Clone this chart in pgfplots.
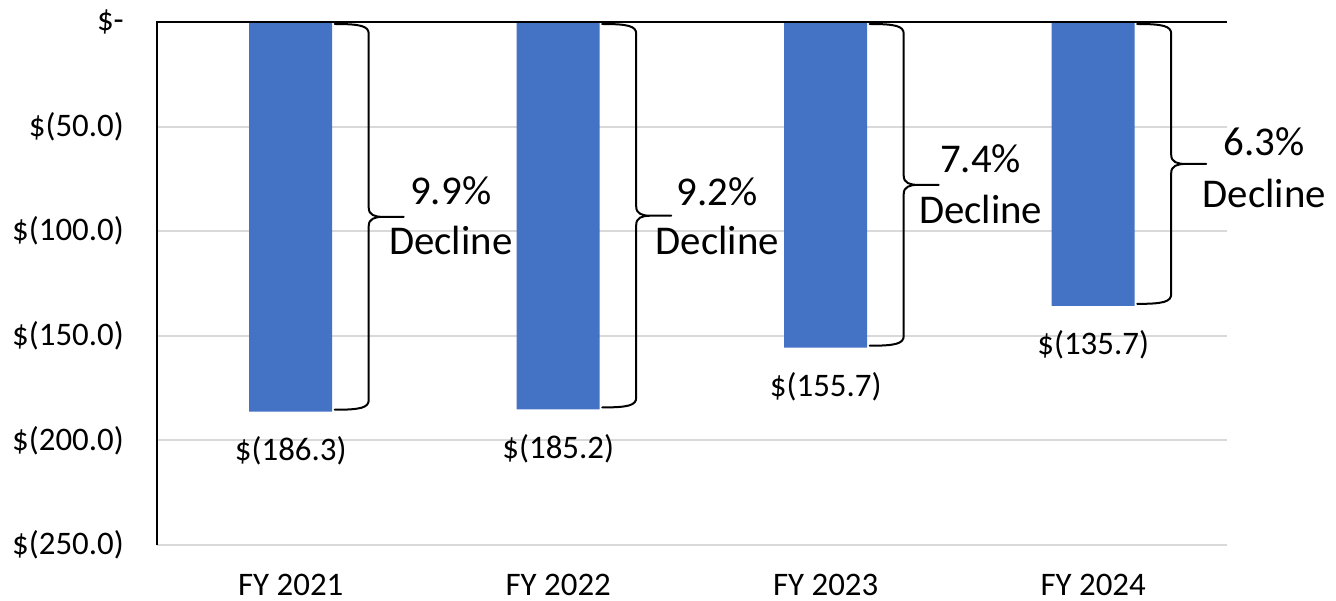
\documentclass[border=0pt]{standalone}
\usepackage{fontspec}
\setmainfont{Carlito}
\usepackage{pgfplots}
\pgfplotsset{compat=1.18}
\definecolor{barblue}{HTML}{4472C4}
\definecolor{gridgray}{HTML}{D9D9D9}
\newcommand{\tickfont}{\fontsize{33}{40}\selectfont}
\newcommand{\declfont}{\fontsize{41}{50}\selectfont}
% #1 bar index, #2 bar value, #3 mid value
\newcommand{\ebrace}[3]{%
  \draw[line width=2bp, line join=round, line cap=round]
    ([xshift=44bp,yshift=-2bp]axis cs:#1,0)
    .. controls ([xshift=70bp,yshift=-2bp]axis cs:#1,0) and ([xshift=78bp,yshift=-4bp]axis cs:#1,0) ..
    ([xshift=78bp,yshift=-12bp]axis cs:#1,0)
    -- ([xshift=78bp,yshift=9bp]axis cs:#1,#3)
    .. controls ([xshift=78bp,yshift=2bp]axis cs:#1,#3) and ([xshift=84bp]axis cs:#1,#3) ..
    ([xshift=92bp]axis cs:#1,#3)
    -- ([xshift=113bp]axis cs:#1,#3)
    -- ([xshift=92bp]axis cs:#1,#3)
    .. controls ([xshift=84bp]axis cs:#1,#3) and ([xshift=78bp,yshift=-2bp]axis cs:#1,#3) ..
    ([xshift=78bp,yshift=-9bp]axis cs:#1,#3)
    -- ([xshift=78bp,yshift=12bp]axis cs:#1,#2)
    .. controls ([xshift=78bp,yshift=4bp]axis cs:#1,#2) and ([xshift=70bp,yshift=2bp]axis cs:#1,#2) ..
    ([xshift=44bp,yshift=2bp]axis cs:#1,#2);
}
\begin{document}
\begin{tikzpicture}
\path[use as bounding box] (-157bp,-56bp) rectangle (1179bp,545bp);
\begin{axis}[at={(0,0)}, anchor=south west,
  scale only axis, width=1070bp, height=523bp,
  xmin=-0.5, xmax=3.5, ymin=-250, ymax=0,
  xtick={0,1,2,3}, xticklabels={FY 2021,FY 2022,FY 2023,FY 2024},
  ytick={0,-50,-100,-150,-200,-250},
  yticklabels={\$-\hspace{0.72em},\$(50.0),\$(100.0),\$(150.0),\$(200.0),\$(250.0)},
  ymajorgrids, major grid style={gridgray, line width=2bp},
  major tick length=0pt,
  axis line style={draw=none},
  tick label style={font=\tickfont},
  yticklabel style={anchor=east, inner sep=0pt, xshift=-33bp},
  xticklabel style={anchor=base, inner sep=0pt, yshift=-50bp},
  clip=false,
  ybar, bar width=83bp, bar shift=0pt,
  nodes near coords, point meta=explicit symbolic,
  every node near coord/.append style={font=\tickfont, anchor=base, inner sep=0pt, yshift=-49bp},
]
\addplot[fill=barblue, draw=none] coordinates {
  (0,-186.3) [\$(186.3)]
  (1,-185.2) [\$(185.2)]
  (2,-155.7) [\$(155.7)]
  (3,-135.7) [\$(135.7)]
};
\draw[black, line width=2bp] (rel axis cs:0,0) -- (rel axis cs:0,1) -- (rel axis cs:1,1);
\ebrace{0}{-186.3}{-93.15}
\ebrace{1}{-185.2}{-92.6}
\ebrace{2}{-155.7}{-77.85}
\ebrace{3}{-135.7}{-67.85}
\node[font=\declfont, anchor=base, inner sep=0pt] at ([xshift=160bp,yshift=12bp]axis cs:0,-93.15) {9.9\%};
\node[font=\declfont, anchor=base, inner sep=0pt] at ([xshift=160bp,yshift=-38bp]axis cs:0,-93.15) {Decline};
\node[font=\declfont, anchor=base, inner sep=0pt] at ([xshift=159bp,yshift=10bp]axis cs:1,-92.6) {9.2\%};
\node[font=\declfont, anchor=base, inner sep=0pt] at ([xshift=159bp,yshift=-39bp]axis cs:1,-92.6) {Decline};
\node[font=\declfont, anchor=base, inner sep=0pt] at ([xshift=155bp,yshift=12bp]axis cs:2,-77.85) {7.4\%};
\node[font=\declfont, anchor=base, inner sep=0pt] at ([xshift=155bp,yshift=-39bp]axis cs:2,-77.85) {Decline};
\node[font=\declfont, anchor=base, inner sep=0pt] at ([xshift=171bp,yshift=8bp]axis cs:3,-67.85) {6.3\%};
\node[font=\declfont, anchor=base, inner sep=0pt] at ([xshift=171bp,yshift=-44bp]axis cs:3,-67.85) {Decline};
\end{axis}
\end{tikzpicture}
\end{document}
